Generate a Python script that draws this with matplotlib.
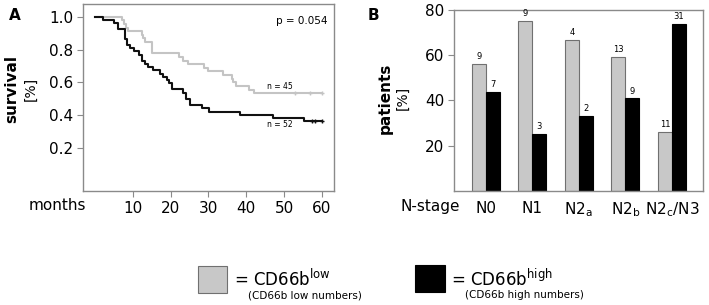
import matplotlib
matplotlib.use("Agg")
import matplotlib.pyplot as plt
from matplotlib.patches import Rectangle

# Kaplan-Meier steps (months, survival fraction)
low_times = [0, 7.1, 7.6, 8.1, 8.7, 12.3, 12.8, 13.2, 15.0, 22.2, 23.4, 24.7,
             28.7, 30.0, 33.8, 36.2, 36.6, 37.3, 40.6, 42.1, 60]
low_surv = [1.0, 0.978, 0.956, 0.933, 0.911, 0.889, 0.867, 0.844, 0.778, 0.756,
            0.733, 0.711, 0.689, 0.667, 0.644, 0.622, 0.600, 0.578, 0.556,
            0.533, 0.533]
low_censored = [53.0, 56.9, 60.0]

high_times = [0, 2.1, 5.1, 6.2, 7.9, 8.4, 9.3, 10.3, 11.5, 12.4, 13.2, 14.1,
              15.4, 17.2, 18.1, 19.0, 19.5, 20.3, 23.3, 24.1, 25.0, 28.2, 30.2,
              38.4, 47.2, 55.3, 60]
high_surv = [1.0, 0.981, 0.962, 0.923, 0.865, 0.827, 0.808, 0.788, 0.769, 0.731,
             0.712, 0.692, 0.673, 0.654, 0.635, 0.615, 0.596, 0.558, 0.538,
             0.500, 0.462, 0.442, 0.423, 0.404, 0.385, 0.365, 0.365]
high_censored = [57.3, 58.2, 60.0]

# panel B
stages = ["N0", "N1", r"N2$_{\mathregular{a}}$", r"N2$_{\mathregular{b}}$",
          r"N2$_{\mathregular{c}}$/N3"]
low_pct = [56.3, 75.0, 66.7, 59.1, 26.2]
high_pct = [43.8, 25.0, 33.3, 40.9, 73.8]
low_n = [9, 9, 4, 13, 11]
high_n = [7, 3, 2, 9, 31]

GRAY = "#c8c8c8"
SPINE = "#8a8a8a"
W, H = 709, 305

fig = plt.figure(figsize=(7.09, 3.05), dpi=100)


def style(ax):
    for s in ax.spines.values():
        s.set_color(SPINE)
        s.set_linewidth(1.0)
    ax.tick_params(length=4, width=0.8, color=SPINE, labelsize=11, pad=3)


# ---- panel A
axA = fig.add_axes([0.117, 0.374, 0.354, 0.613])
axA.step(low_times, low_surv, where="post", color="#c4c4c4", lw=1.5)
axA.step(high_times, high_surv, where="post", color="#111111", lw=1.5)
axA.plot(low_censored, [low_surv[-1]] * 3, "+", color="#c4c4c4", ms=3.5, mew=1)
axA.plot(high_censored, [high_surv[-1]] * 3, "+", color="#111111", ms=3.5, mew=1)
axA.set_xlim(-3.2, 63.2)
axA.set_ylim(-0.06, 1.077)
axA.set_xticks([10, 20, 30, 40, 50, 60])
axA.set_yticks([0.2, 0.4, 0.6, 0.8, 1.0])
axA.set_yticklabels(["0.2", "0.4", "0.6", "0.8", "1.0"])
style(axA)
axA.text(54.7, 0.974, "p = 0.054", ha="center", va="center", fontsize=7.5)
axA.text(48.9, 0.574, "n = 45", ha="center", va="center", fontsize=5.5)
axA.text(48.9, 0.342, "n = 52", ha="center", va="center", fontsize=5.5)

fig.text(57 / W, 1 - 205 / H, "months", ha="center", va="center", fontsize=11)
fig.text(12 / W, 1 - 89 / H, "survival", rotation=90, ha="center",
         va="center", fontsize=11, fontweight="bold")
fig.text(31 / W, 1 - 89 / H, "[%]", rotation=90, ha="center",
         va="center", fontsize=10)
fig.text(15 / W, 1 - 15 / H, "A", ha="center", va="center", fontsize=11,
         fontweight="bold")

# ---- panel B
axB = fig.add_axes([0.640, 0.374, 0.351, 0.593])
x = range(len(stages))
w = 0.3
xl = [i - w / 2 for i in x]
xh = [i + w / 2 for i in x]
axB.bar(xl, low_pct, width=w, color=GRAY, edgecolor="#707070", linewidth=0.8)
axB.bar(xh, high_pct, width=w, color="black", edgecolor="black", linewidth=0.8)
for xi, v, n in zip(xl, low_pct, low_n):
    axB.text(xi, v + 1.3, str(n), ha="center", va="bottom", fontsize=6)
for xi, v, n in zip(xh, high_pct, high_n):
    axB.text(xi, v + 1.3, str(n), ha="center", va="bottom", fontsize=6)
axB.set_xlim(-0.686, 4.657)
axB.set_ylim(0, 80)
axB.set_yticks([20, 40, 60, 80])
axB.set_xticks(list(x))
axB.set_xticklabels(stages)
style(axB)
axB.tick_params(axis="x", length=0, pad=7)

fig.text(430 / W, 1 - 207 / H, "N-stage", ha="center", va="center", fontsize=11)
fig.text(385 / W, 1 - 98 / H, "patients", rotation=90, ha="center",
         va="center", fontsize=11, fontweight="bold")
fig.text(403 / W, 1 - 98 / H, "[%]", rotation=90, ha="center",
         va="center", fontsize=10)
fig.text(373 / W, 1 - 15 / H, "B", ha="center", va="center", fontsize=11,
         fontweight="bold")

# ---- legend
fig.patches.append(Rectangle((198 / W, 1 - 293 / H), 29 / W, 27 / H,
                             transform=fig.transFigure, facecolor=GRAY,
                             edgecolor="#707070", linewidth=0.8))
fig.patches.append(Rectangle((415 / W, 1 - 292 / H), 30 / W, 27 / H,
                             transform=fig.transFigure, facecolor="black",
                             edgecolor="black", linewidth=0.8))
fig.text(234 / W, 1 - 286 / H, r"= CD66b$^{\mathregular{low}}$",
         ha="left", va="baseline", fontsize=12)
fig.text(248 / W, 1 - 298 / H, "(CD66b low numbers)", ha="left",
         va="baseline", fontsize=7.5)
fig.text(451 / W, 1 - 286 / H, r"= CD66b$^{\mathregular{high}}$",
         ha="left", va="baseline", fontsize=12)
fig.text(465 / W, 1 - 298 / H, "(CD66b high numbers)", ha="left",
         va="baseline", fontsize=7.5)

fig.savefig("out.png", dpi=100)
